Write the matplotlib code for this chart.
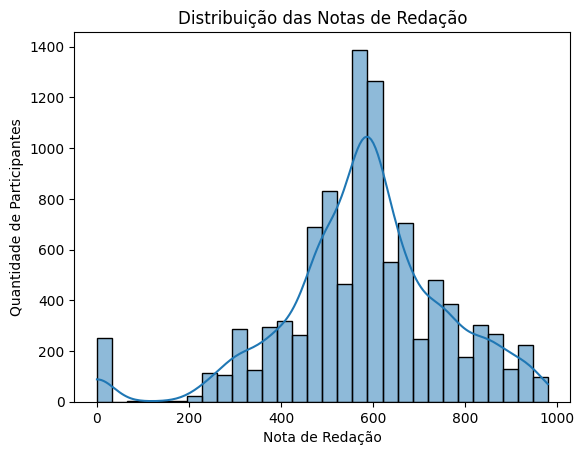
import numpy as np
import matplotlib
matplotlib.use("Agg")
import matplotlib.pyplot as plt
import seaborn as sns

# bin edges: 30 bins from 0 to 980
bin_lo = 0
bin_hi = 980
n_bins = 30
counts = [251, 0, 2, 1, 2, 3, 22, 113, 104, 286, 125, 294, 319, 264, 690,
          832, 465, 1388, 1263, 551, 706, 247, 481, 385, 178, 302, 266, 128, 224, 99]

edges = np.linspace(bin_lo, bin_hi, n_bins + 1)
values = (edges[:-1] + edges[1:]) / 2
values[0] = bin_lo  # the lowest bin holds the zero scores
counts = np.array(counts, dtype=float)

fig, ax = plt.subplots(figsize=(6.4, 4.8), dpi=100)
sns.histplot(x=values, weights=counts, bins=n_bins, binrange=(bin_lo, bin_hi),
             kde=True, ax=ax,
             kde_kws={"bw_method": 0.2, "cut": 1, "clip": (bin_lo, bin_hi)})
ax.set_title("Distribuição das Notas de Redação")
ax.set_xlabel("Nota de Redação")
ax.set_ylabel("Quantidade de Participantes")
fig.savefig("out.png", bbox_inches="tight")
